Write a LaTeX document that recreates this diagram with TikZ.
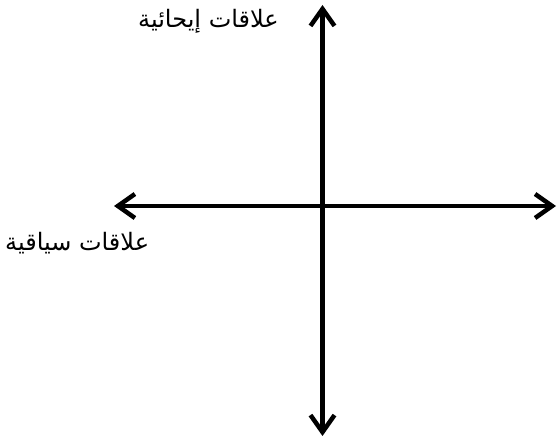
\documentclass[tikz,border=0pt]{standalone}
\usepackage{fontspec}
\newfontfamily\arabicfont[Script=Arabic]{DejaVu Sans}
\TeXXeTstate=1
\usetikzlibrary{arrows.meta}
\tikzset{
  tip/.tip={Straight Barb[length=17pt,width=24pt,line width=4.5pt]},
  axis/.style={line width=4.5pt, tip-tip},
  lbl/.style={font=\arabicfont\fontsize{24}{27}\selectfont, inner sep=0pt}
}
\begin{document}
\begin{tikzpicture}[x=1pt,y=-1pt]
\useasboundingbox[fill=white] (0,0) rectangle (558,441);
\coordinate (top) at (322.5,5);
\coordinate (bot) at (322.5,436);
\coordinate (lft) at (114,206);
\coordinate (rgt) at (556,206);
\draw[axis] (top) -- (bot);
\draw[axis] (lft) -- (rgt);
\node[lbl, anchor=east] (v) at (279,21) {\beginR علاقات إيحائية\endR};
\node[lbl, anchor=west] (h) at (5,243) {\beginR علاقات سياقية\endR};
\end{tikzpicture}
\end{document}
